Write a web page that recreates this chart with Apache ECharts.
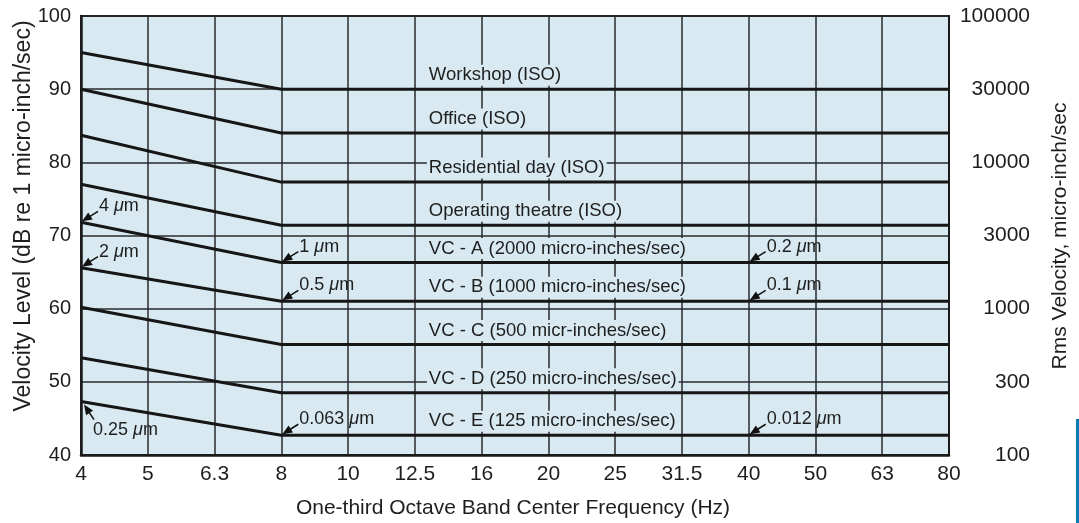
<!DOCTYPE html>
<html>
<head>
<meta charset="utf-8">
<script src="https://cdn.jsdelivr.net/npm/echarts@6/dist/echarts.min.js"></script>
<style>
  html, body { margin: 0; padding: 0; background: #ffffff; }
  #chart { width: 1079px; height: 523px; }
</style>
</head>
<body>
<div id="chart"></div>
<script>
// One-third octave band centre frequencies (Hz)
const frequencies = ['4', '5', '6.3', '8', '10', '12.5', '16', '20', '25', '31.5', '40', '50', '63', '80'];

// Right-hand axis: rms velocity in micro-inch/sec at each 10 dB step (40 ... 100 dB)
const rmsLabels = ['100', '300', '1000', '3000', '10000', '30000', '100000'];

// Criterion curves, velocity level in dB re 1 micro-inch/sec: [at 4 Hz, at 8 Hz, at 80 Hz]
const workshop    = [95.0, 90.0, 90.0];
const office      = [90.0, 84.0, 84.0];
const residential = [83.7, 77.3, 77.3];
const operating   = [77.0, 71.4, 71.4];
const vcA         = [71.8, 66.3, 66.3];
const vcB         = [65.6, 61.0, 61.0];
const vcC         = [60.2, 55.1, 55.1];
const vcD         = [53.3, 48.5, 48.5];
const vcE         = [47.3, 42.7, 42.7];

const curveNames = [
  'Workshop (ISO)',
  'Office (ISO)',
  'Residential day (ISO)',
  'Operating theatre (ISO)',
  'VC - A (2000 micro-inches/sec)',
  'VC - B (1000 micro-inches/sec)',
  'VC - C (500 micr-inches/sec)',
  'VC - D (250 micro-inches/sec)',
  'VC - E (125 micro-inches/sec)'
];
const curves = [workshop, office, residential, operating, vcA, vcB, vcC, vcD, vcE];
const curveFreqs = ['4', '8', '80'];

// Displacement callouts: text, curve index, frequency
const calloutTexts  = ['4', '2', '0.25', '1', '0.5', '0.063', '0.2', '0.1', '0.012'];
const calloutCurves = [4, 5, 8, 4, 5, 8, 4, 5, 8];
const calloutFreqs  = ['4', '4', '4', '8', '8', '8', '40', '40', '40'];

const FONT = '"Liberation Sans", Arial, Helvetica, sans-serif';
const INK = '#1e1e1e';
const PLOT_BG = '#d8e9f1';

const chart = echarts.init(document.getElementById('chart'), null, { renderer: 'canvas' });

const series = curves.map((c, i) => ({
  type: 'line',
  name: curveNames[i],
  data: curveFreqs.map((f, k) => [f, c[k]]),
  symbol: 'none',
  lineStyle: { color: '#161616', width: 3 },
  z: 3,
  silent: true,
  animation: false
}));

chart.setOption({
  animation: false,
  backgroundColor: '#ffffff',
  grid: {
    left: 81, right: 130, top: 16, bottom: 68,
    show: true, backgroundColor: PLOT_BG, borderColor: '#1a1a1a', borderWidth: 2
  },
  xAxis: {
    type: 'category',
    data: frequencies,
    boundaryGap: false,
    axisLine: { show: true, lineStyle: { color: '#1a1a1a', width: 2.5 } },
    axisTick: { show: false },
    axisLabel: { color: INK, fontFamily: FONT, fontSize: 21, margin: 9 },
    splitLine: { show: true, lineStyle: { color: '#2a2a2a', width: 1.5 } }
  },
  yAxis: [
    {
      type: 'value', min: 40, max: 100, interval: 10, position: 'left',
      axisLine: { show: true, lineStyle: { color: '#1a1a1a', width: 2.5 } },
      axisTick: { show: false },
      axisLabel: { color: INK, fontFamily: FONT, fontSize: 20, margin: 10 },
      splitLine: { show: true, lineStyle: { color: '#2a2a2a', width: 1.5 } }
    },
    {
      type: 'value', min: 40, max: 100, interval: 10, position: 'right',
      axisLine: { show: true, lineStyle: { color: '#1a1a1a', width: 2 } },
      axisTick: { show: false },
      axisLabel: {
        color: INK, fontFamily: FONT, fontSize: 21, margin: 81, align: 'right',
        formatter: v => rmsLabels[Math.round((v - 40) / 10)]
      },
      splitLine: { show: false }
    }
  ],
  series: series
});

// Overlay: axis titles, curve names and displacement callouts
function px(freq, val) {
  return chart.convertToPixel({ xAxisIndex: 0, yAxisIndex: 0 }, [frequencies.indexOf(freq), val]);
}

const graphics = [];

graphics.push({
  type: 'text', x: 513, y: 508, z: 100,
  style: { text: 'One-third Octave Band Center Frequency (Hz)', font: '21px ' + FONT, fill: INK, align: 'center', verticalAlign: 'middle' }
});
graphics.push({
  type: 'text', x: 24, y: 216, rotation: Math.PI / 2, z: 100,
  style: { text: 'Velocity Level (dB re 1 micro-inch/sec)', font: '23px ' + FONT, fill: INK, align: 'center', verticalAlign: 'middle' }
});
graphics.push({
  type: 'text', x: 1060, y: 236, rotation: Math.PI / 2, z: 100,
  style: { text: 'Rms Velocity, micro-inch/sec', font: '21px ' + FONT, fill: INK, align: 'center', verticalAlign: 'middle' }
});

// Curve names, placed just above the flat part of each curve
curves.forEach((c, i) => {
  const p = px('12.5', c[2]);
  graphics.push({
    type: 'text', x: p[0] + 12, y: p[1] - 14, z: 90,
    style: {
      text: curveNames[i], font: '18.5px ' + FONT, fill: INK,
      align: 'left', verticalAlign: 'middle',
      backgroundColor: PLOT_BG, padding: [1, 2, 1, 2]
    }
  });
});

// Callouts with small arrows pointing at the curve
function arrow(tail, tip) {
  const dx = tip[0] - tail[0], dy = tip[1] - tail[1];
  const len = Math.hypot(dx, dy);
  const ux = dx / len, uy = dy / len;
  const headLen = 10, headW = 4.2;
  const bx = tip[0] - ux * headLen, by = tip[1] - uy * headLen;
  graphics.push({
    type: 'line', z: 95,
    shape: { x1: tail[0], y1: tail[1], x2: bx + ux * 2, y2: by + uy * 2 },
    style: { stroke: '#111', lineWidth: 1.5 }
  });
  graphics.push({
    type: 'polygon', z: 95,
    shape: { points: [tip, [bx - uy * headW, by + ux * headW], [bx + uy * headW, by - ux * headW]] },
    style: { fill: '#111' }
  });
}

calloutTexts.forEach((t, i) => {
  const idx = curveFreqs.indexOf(calloutFreqs[i]);
  const val = idx >= 0 ? curves[calloutCurves[i]][idx] : curves[calloutCurves[i]][2];
  const p = px(calloutFreqs[i], val);
  const below = (i === 2);
  const tx = below ? p[0] + 12 : p[0] + 18;
  const ty = below ? p[1] + 28 : p[1] - 16;
  graphics.push({
    type: 'text', x: tx, y: ty, z: 96,
    style: {
      text: '{n|' + t + ' }{mu|μ}{n|m}',
      align: 'left', verticalAlign: 'middle',
      rich: {
        n: { font: '18px ' + FONT, fill: INK },
        mu: { font: 'italic 18px ' + FONT, fill: INK }
      }
    }
  });
  if (below) {
    arrow([tx + 1, ty - 10], [p[0] + 3, p[1] + 3]);
  } else {
    arrow([tx - 1, ty + 5], [p[0] + 1, p[1] - 1]);
  }
});

// Blue edge rule at the lower right
graphics.push({
  type: 'rect', z: 100,
  shape: { x: 1076, y: 419, width: 3, height: 104 },
  style: { fill: '#0b7db4' }
});

chart.setOption({ graphic: graphics });
</script>
</body>
</html>
